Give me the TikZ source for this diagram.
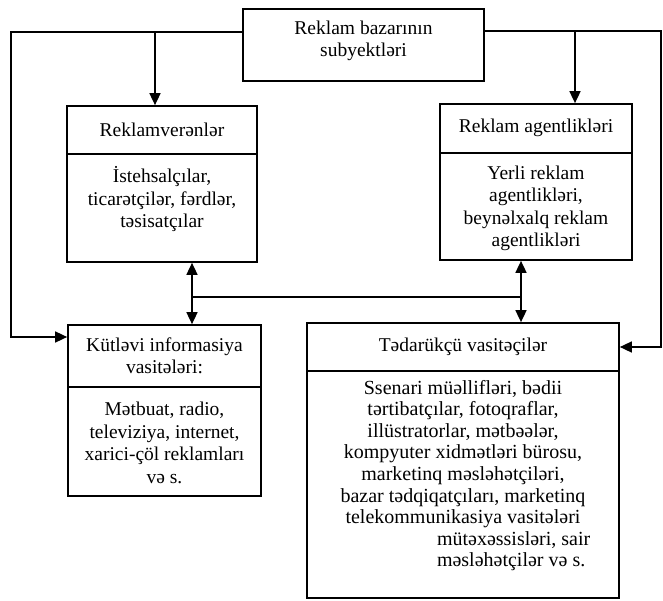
\documentclass[tikz,border=0pt]{standalone}
\usepackage{fontspec}
\setmainfont{Liberation Serif}
\usetikzlibrary{arrows.meta}
\begin{document}
\begin{tikzpicture}[x=1pt,y=-1pt,
  box/.style={draw,line width=1.7pt,inner sep=0pt,rectangle},
  txt/.style={align=center,inner sep=0pt,font=\fontsize{19.5}{22.5}\selectfont},
  txtb/.style={align=center,inner sep=0pt,font=\fontsize{20}{21.6}\selectfont},
  ln/.style={line width=1.6pt},
  arr/.style={line width=1.6pt,-{Triangle[length=12pt,width=11pt]}},
  darr/.style={line width=1.6pt,{Triangle[length=12pt,width=11pt]}-{Triangle[length=12pt,width=11pt]}}]
\useasboundingbox (0,0) rectangle (663,601);

% boxes
\node[box,minimum width=241pt,minimum height=72pt] (top) at (363.5,45) {};
\node[box,minimum width=190pt,minimum height=48pt] (rvh) at (162,130) {};
\node[box,minimum width=190pt,minimum height=108pt] (rvb) at (162,208) {};
\node[box,minimum width=192pt,minimum height=49pt] (agh) at (536,128.5) {};
\node[box,minimum width=192pt,minimum height=107pt] (agb) at (536,206.5) {};
\node[box,minimum width=193pt,minimum height=62pt] (kvh) at (164.5,356) {};
\node[box,minimum width=193pt,minimum height=109pt] (kvb) at (164.5,441.5) {};
\node[box,minimum width=312pt,minimum height=48pt] (tdh) at (463,347) {};
\node[box,minimum width=312pt,minimum height=227pt] (tdb) at (463,484.5) {};

% texts
\node[txt] (t-top) at (363.5,41) {Reklam bazarının\\subyektləri};
\node[txt] (t-rvh) at (162,130) {Reklamverənlər};
\node[txt] (t-rvb) at (162,199.5) {İstehsalçılar,\\ticarətçilər, fərdlər,\\təsisatçılar};
\node[txt] (t-agh) at (536,128) {Reklam agentlikləri};
\node[txt] (t-agb) at (536,208.5) {Yerli reklam\\agentlikləri,\\beynəlxalq reklam\\agentlikləri};
\node[txt] (t-kvh) at (164.5,356) {Kütləvi informasiya\\vasitələri:};
\node[txt] (t-kvb) at (164.5,443) {Mətbuat, radio,\\televiziya, internet,\\xarici-çöl reklamları\\və s.};
\node[txt] (t-tdh) at (463,347) {Tədarükçü vasitəçilər};
\node[txtb] (t-tdb) at (463,475.5) {Ssenari müəllifləri, bədii\\tərtibatçılar, fotoqraflar,\\illüstratorlar, mətbəələr,\\kompyuter xidmətləri bürosu,\\marketinq məsləhətçiləri,\\bazar tədqiqatçıları, marketinq\\telekommunikasiya vasitələri\\\makebox[0pt][l]{\hspace{-26pt}mütəxəssisləri, sair}\\\makebox[0pt][l]{\hspace{-26pt}məsləhətçilər və s.}};

% junction coordinates
\coordinate (c1) at (11,32);
\coordinate (c2) at (11,337);
\coordinate (c3) at (661,31);
\coordinate (c4) at (661,347);
\coordinate (j1) at (155,32);
\coordinate (j2) at (575,31);
\coordinate (j3) at (192,297);
\coordinate (j4) at (521,297);

% connectors
\draw[arr] ([yshift=13pt]top.west) -- (c1) -- (c2) -- (c2 -| kvh.west);
\draw[arr] ([yshift=14pt]top.east) -- (c3) -- (c4) -- (c4 -| tdh.east);
\draw[arr] (j1) -- (j1 |- rvh.north);
\draw[arr] (j2) -- (j2 |- agh.north);
\draw[ln] (j3) -- (j4);
\draw[darr] (j3 |- rvb.south) -- (j3 |- kvh.north);
\draw[darr] (j4 |- agb.south) -- (j4 |- tdh.north);
\end{tikzpicture}
\end{document}
